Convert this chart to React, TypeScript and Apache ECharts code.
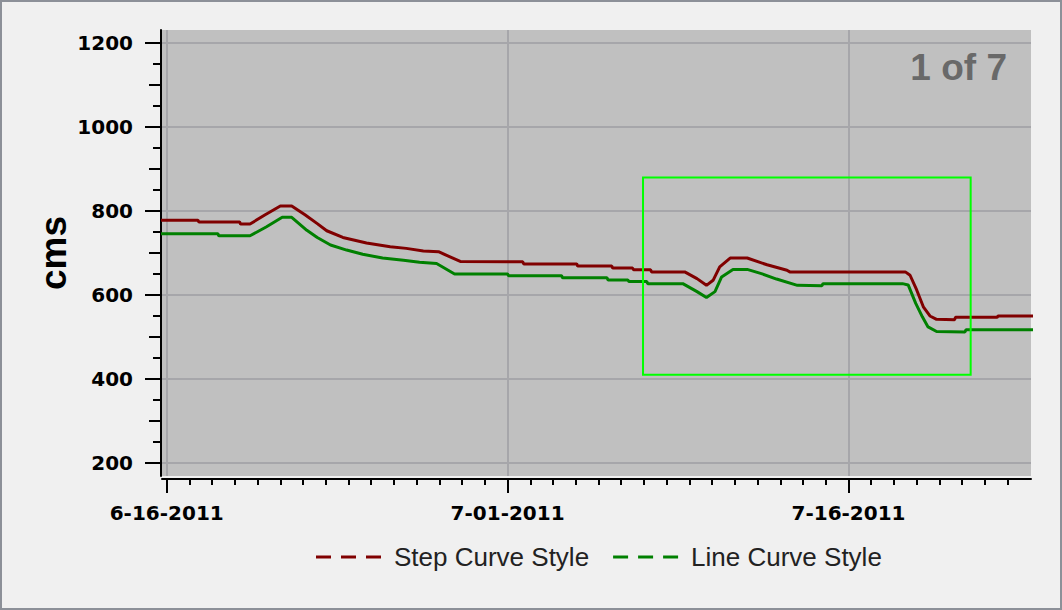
import React, { useEffect, useRef } from 'react';
import * as echarts from 'echarts';

// ---- Data ----
const stepTimes = [
  '2011-06-15T18:00', '2011-06-17T09:00', '2011-06-17T10:00', '2011-06-19T05:00', '2011-06-19T06:00',
  '2011-06-19T16:00', '2011-06-20T08:00', '2011-06-21T00:00', '2011-06-21T12:00', '2011-06-22T02:00',
  '2011-06-22T15:00', '2011-06-23T01:00', '2011-06-23T18:00', '2011-06-24T19:00', '2011-06-25T20:00',
  '2011-06-26T13:00', '2011-06-27T07:00', '2011-06-27T23:00', '2011-06-28T10:00', '2011-06-28T22:00',
  '2011-07-01T16:00', '2011-07-01T17:00', '2011-07-04T01:00', '2011-07-04T02:00', '2011-07-05T14:00',
  '2011-07-05T15:00', '2011-07-06T12:00', '2011-07-06T13:00', '2011-07-07T07:00', '2011-07-07T08:00',
  '2011-07-08T19:00', '2011-07-09T08:00', '2011-07-09T18:00', '2011-07-10T01:00', '2011-07-10T08:00',
  '2011-07-10T19:00', '2011-07-11T13:00', '2011-07-12T10:00', '2011-07-13T07:00', '2011-07-13T10:00',
  '2011-07-18T12:00', '2011-07-18T17:00', '2011-07-19T00:00', '2011-07-19T07:00', '2011-07-19T14:00',
  '2011-07-19T21:00', '2011-07-20T16:00', '2011-07-20T17:00', '2011-07-22T13:00', '2011-07-22T14:00',
  '2011-07-24T06:00',
];
const stepValues = [
  778, 778, 774, 774, 769,
  769, 791, 812, 812, 791,
  770, 753, 737, 724, 715,
  711, 705, 703, 692, 680,
  679, 674, 674, 669, 669,
  664, 664, 660, 660, 655,
  655, 639, 623, 635, 667,
  688, 688, 672, 659, 655,
  655, 647, 612, 572, 550,
  542, 541, 547, 547, 550,
  550,
];

const lineTimes = [
  '2011-06-15T18:00', '2011-06-18T06:00', '2011-06-18T07:00', '2011-06-19T16:00', '2011-06-20T09:00',
  '2011-06-21T02:00', '2011-06-21T12:00', '2011-06-22T04:00', '2011-06-22T15:00', '2011-06-23T05:00',
  '2011-06-23T22:00', '2011-06-24T15:00', '2011-06-25T12:00', '2011-06-26T10:00', '2011-06-27T03:00',
  '2011-06-27T21:00', '2011-06-28T16:00', '2011-07-01T00:00', '2011-07-01T01:00', '2011-07-03T09:00',
  '2011-07-03T10:00', '2011-07-05T09:00', '2011-07-05T10:00', '2011-07-06T07:00', '2011-07-06T08:00',
  '2011-07-07T03:00', '2011-07-07T04:00', '2011-07-08T17:00', '2011-07-09T08:00', '2011-07-09T18:00',
  '2011-07-10T03:00', '2011-07-10T10:00', '2011-07-10T22:00', '2011-07-11T13:00', '2011-07-12T04:00',
  '2011-07-12T20:00', '2011-07-13T18:00', '2011-07-14T20:00', '2011-07-14T21:00', '2011-07-18T09:00',
  '2011-07-18T15:00', '2011-07-18T23:00', '2011-07-19T06:00', '2011-07-19T12:00', '2011-07-19T21:00',
  '2011-07-21T03:00', '2011-07-21T04:00', '2011-07-24T06:00',
];
const lineValues = [
  746, 746, 741, 741, 762,
  785, 785, 754, 737, 719,
  707, 697, 688, 683, 678,
  675, 650, 650, 646, 646,
  641, 641, 636, 636, 632,
  632, 627, 627, 608, 594,
  608, 643, 661, 661, 651,
  638, 623, 622, 627, 627,
  624, 580, 548, 524, 513,
  512, 517, 517,
];

const seriesNames = ['Step Curve Style', 'Line Curve Style'];
const xLabelDates = ['2011-06-16T00:00', '2011-07-01T00:00', '2011-07-16T00:00'];
const xRange = ['2011-06-15T19:02', '2011-07-24T00:43'];
const yRange = [169, 1231];
const yMajorTicks = [200, 400, 600, 800, 1000, 1200];
const yMidTicks = [300, 500, 700, 900, 1100];
const yMinorTicks = [250, 350, 450, 550, 650, 750, 850, 950, 1050, 1150];
const zoomBox = { start: '2011-07-06T23:00', end: '2011-07-21T09:00', top: 880, bottom: 410 };
const pageLabel = '1 of 7';

const toMs = (s: string) => new Date(s).getTime();
const DAY = 86400000;

function fmtDate(v: number) {
  const d = new Date(v);
  return `${d.getMonth() + 1}-${String(d.getDate()).padStart(2, '0')}-${d.getFullYear()}`;
}

export default function App() {
  const ref = useRef<HTMLDivElement>(null);
  useEffect(() => {
    if (!ref.current) return;
    const chart = echarts.init(ref.current, undefined, { renderer: 'svg' });
    const xMin = toMs(xRange[0]);
    const xMax = toMs(xRange[1]);
    const xMajor = xLabelDates.map(toMs);
    const xDays: number[] = [];
    for (let t = toMs('2011-06-16T00:00'); t < xMax - DAY / 2; t += DAY) xDays.push(t);

    const tickLine = { color: '#000', width: 2 };
    const labelFont = { fontFamily: 'DejaVu Sans', fontWeight: 'bold' as const, fontSize: 20, color: '#000' };
    const gridLine = { color: '#a6a6aa', width: 2 };

    const yBase = (extra: any) => ({
      type: 'value', min: yRange[0], max: yRange[1], position: 'left', offset: 1,
      axisLine: { show: false }, axisLabel: { show: false }, splitLine: { show: false },
      ...extra,
    });

    chart.setOption({
      animation: false,
      backgroundColor: '#f0f0f0',
      grid: {
        left: 162, top: 30, right: 31, bottom: 134, show: true,
        backgroundColor: '#c0c0c0', borderWidth: 0, outerBoundsMode: 'none',
      },
      legend: {
        left: 316, top: 544, padding: 0,
        data: seriesNames,
        icon: 'path://M0,0h15v3h-15z M25,0h15v3h-15z M50,0h15v3h-15z',
        itemWidth: 65, itemHeight: 3, itemGap: 24,
        itemStyle: { borderWidth: 0 },
        textStyle: { fontFamily: 'Liberation Sans', fontSize: 26, color: '#222', padding: [0, 0, 0, 8] },
      },
      xAxis: [
        {
          type: 'value', min: xMin, max: xMax, position: 'bottom', offset: 3,
          axisLine: { show: true, onZero: false, lineStyle: tickLine },
          axisTick: { show: true, customValues: xMajor, length: 14, lineStyle: tickLine },
          axisLabel: { customValues: xMajor, formatter: fmtDate, margin: 24, ...labelFont },
          splitLine: { show: true, lineStyle: gridLine },
        },
        {
          type: 'value', min: xMin, max: xMax, position: 'bottom', offset: 3,
          axisLine: { show: false, onZero: false },
          axisTick: { show: true, customValues: xDays, length: 6, lineStyle: tickLine },
          axisLabel: { show: false }, splitLine: { show: false },
        },
      ],
      yAxis: [
        {
          type: 'value', min: yRange[0], max: yRange[1], position: 'left', offset: 1,
          name: 'cms', nameLocation: 'middle', nameGap: 89, nameMoveOverlap: false,
          nameTextStyle: { fontFamily: 'Liberation Sans', fontWeight: 'bold', fontSize: 37, color: '#000' },
          axisLine: { show: true, onZero: false, lineStyle: tickLine },
          axisTick: { show: true, customValues: yMajorTicks, length: 16, lineStyle: tickLine },
          axisLabel: { customValues: yMajorTicks, margin: 28, formatter: (v: number) => String(v), ...labelFont },
          splitLine: { show: true, lineStyle: gridLine },
        },
        yBase({ axisTick: { show: true, customValues: yMidTicks, length: 12, lineStyle: tickLine } }),
        yBase({ axisTick: { show: true, customValues: yMinorTicks, length: 8, lineStyle: tickLine } }),
      ],
      series: [
        {
          name: seriesNames[0], type: 'line', xAxisIndex: 0, yAxisIndex: 0,
          data: stepTimes.map((t, i) => [toMs(t), stepValues[i]]),
          showSymbol: false, symbol: 'none', z: 3,
          lineStyle: { color: '#800000', width: 3 }, itemStyle: { color: '#800000' },
        },
        {
          name: seriesNames[1], type: 'line', xAxisIndex: 0, yAxisIndex: 0,
          data: lineTimes.map((t, i) => [toMs(t), lineValues[i]]),
          showSymbol: false, symbol: 'none', z: 3,
          lineStyle: { color: '#008000', width: 3 }, itemStyle: { color: '#008000' },
        },
        {
          type: 'line', xAxisIndex: 0, yAxisIndex: 0, data: [], z: 6, silent: true,
          markArea: {
            silent: true, z: 6,
            itemStyle: { color: 'rgba(0,0,0,0)', borderColor: '#00ff00', borderWidth: 2 },
            label: { show: false },
            data: [[
              { coord: [toMs(zoomBox.start), zoomBox.top] },
              { coord: [toMs(zoomBox.end), zoomBox.bottom] },
            ]],
          },
        },
      ],
      graphic: [
        {
          type: 'text', x: 1007, y: 67, z: 10,
          style: {
            text: pageLabel, fill: '#696969',
            font: 'bold 37px "Liberation Sans"',
            textAlign: 'right', textVerticalAlign: 'middle',
          },
        },
      ],
    });
    return () => chart.dispose();
  }, []);

  return (
    <div style={{ position: 'fixed', left: 0, top: 0, width: 1062, height: 610, background: '#f0f0f0' }}>
      <div ref={ref} style={{ width: 1062, height: 610 }} />
      <div style={{ position: 'absolute', left: 0, top: 0, width: 1062, height: 610, boxSizing: 'border-box', border: '2px solid #8c9098', pointerEvents: 'none' }} />
    </div>
  );
}
